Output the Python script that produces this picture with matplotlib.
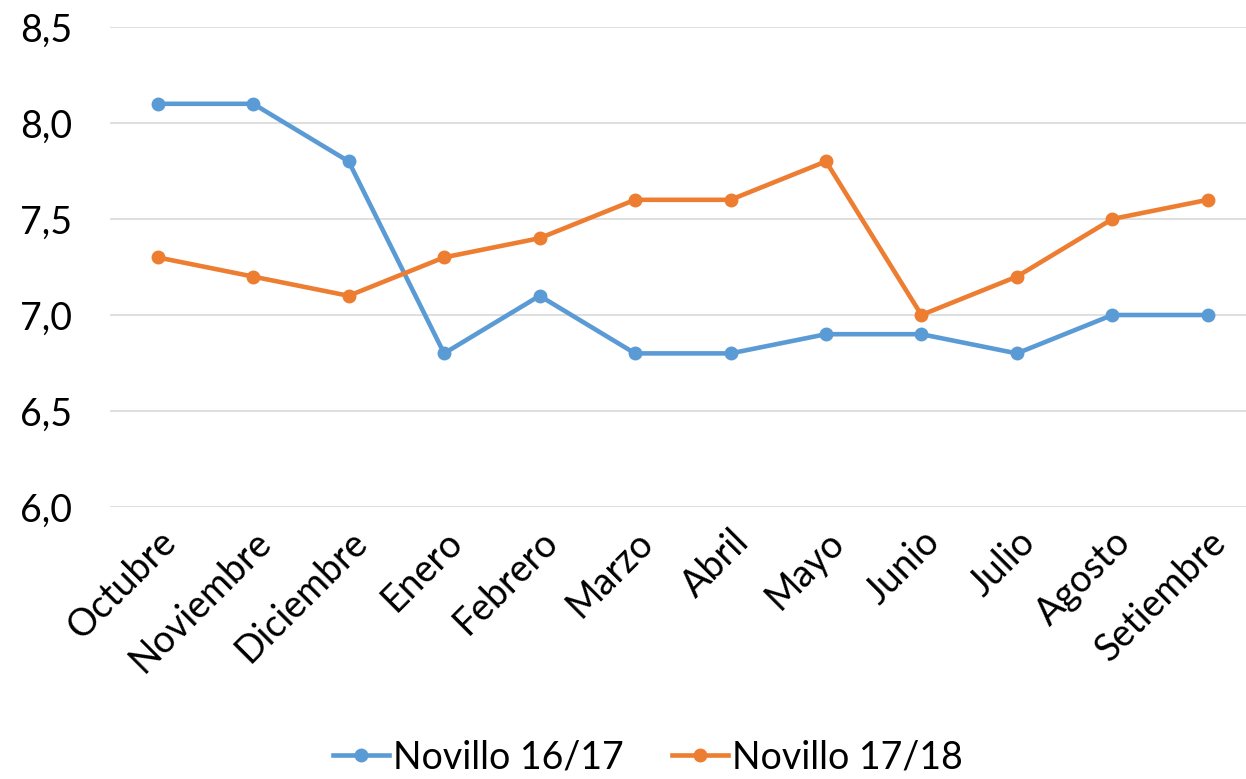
import matplotlib.pyplot as plt
from matplotlib.ticker import FuncFormatter

months = ["Octubre", "Noviembre", "Diciembre", "Enero", "Febrero", "Marzo",
          "Abril", "Mayo", "Junio", "Julio", "Agosto", "Setiembre"]
novillo_1617 = [8.1, 8.1, 7.8, 6.8, 7.1, 6.8, 6.8, 6.9, 6.9, 6.8, 7.0, 7.0]
novillo_1718 = [7.3, 7.2, 7.1, 7.3, 7.4, 7.6, 7.6, 7.8, 7.0, 7.2, 7.5, 7.6]

plt.rcParams['font.family'] = ['Lato', 'DejaVu Sans']

W, H = 1246, 779
fig = plt.figure(figsize=(W / 100, H / 100), dpi=100)
ax = fig.add_axes([110 / W, (H - 507) / H, (1246 - 110) / W, 480 / H])

x = range(len(months))
ax.plot(x, novillo_1617, color="#5B9BD5", lw=3.3, marker="o", ms=9, label="Novillo 16/17")
ax.plot(x, novillo_1718, color="#ED7D31", lw=3.3, marker="o", ms=9, label="Novillo 17/18")

ax.set_xlim(-0.5, 11.4)
ax.set_ylim(6.0, 8.5)
ax.set_yticks([6.0, 6.5, 7.0, 7.5, 8.0, 8.5])
ax.yaxis.set_major_formatter(FuncFormatter(lambda v, p: f"{v:.1f}".replace(".", ",")))
ax.set_xticks(list(x))
ax.set_xticklabels(months, rotation=45, ha="right", rotation_mode="anchor")
ax.tick_params(axis="both", length=0, labelsize=27)
ax.tick_params(axis="x", pad=12)
ax.tick_params(axis="y", pad=27)
ax.grid(axis="y", color="#D9D9D9", lw=1.2)
ax.set_axisbelow(True)
for s in ax.spines.values():
    s.set_visible(False)

fig.legend(loc="center", bbox_to_anchor=(0.52, (H - 757) / H), ncol=2, frameon=False,
           fontsize=27, handlelength=1.5, columnspacing=1.3, handletextpad=0.1)

fig.savefig("out.png", dpi=100)
